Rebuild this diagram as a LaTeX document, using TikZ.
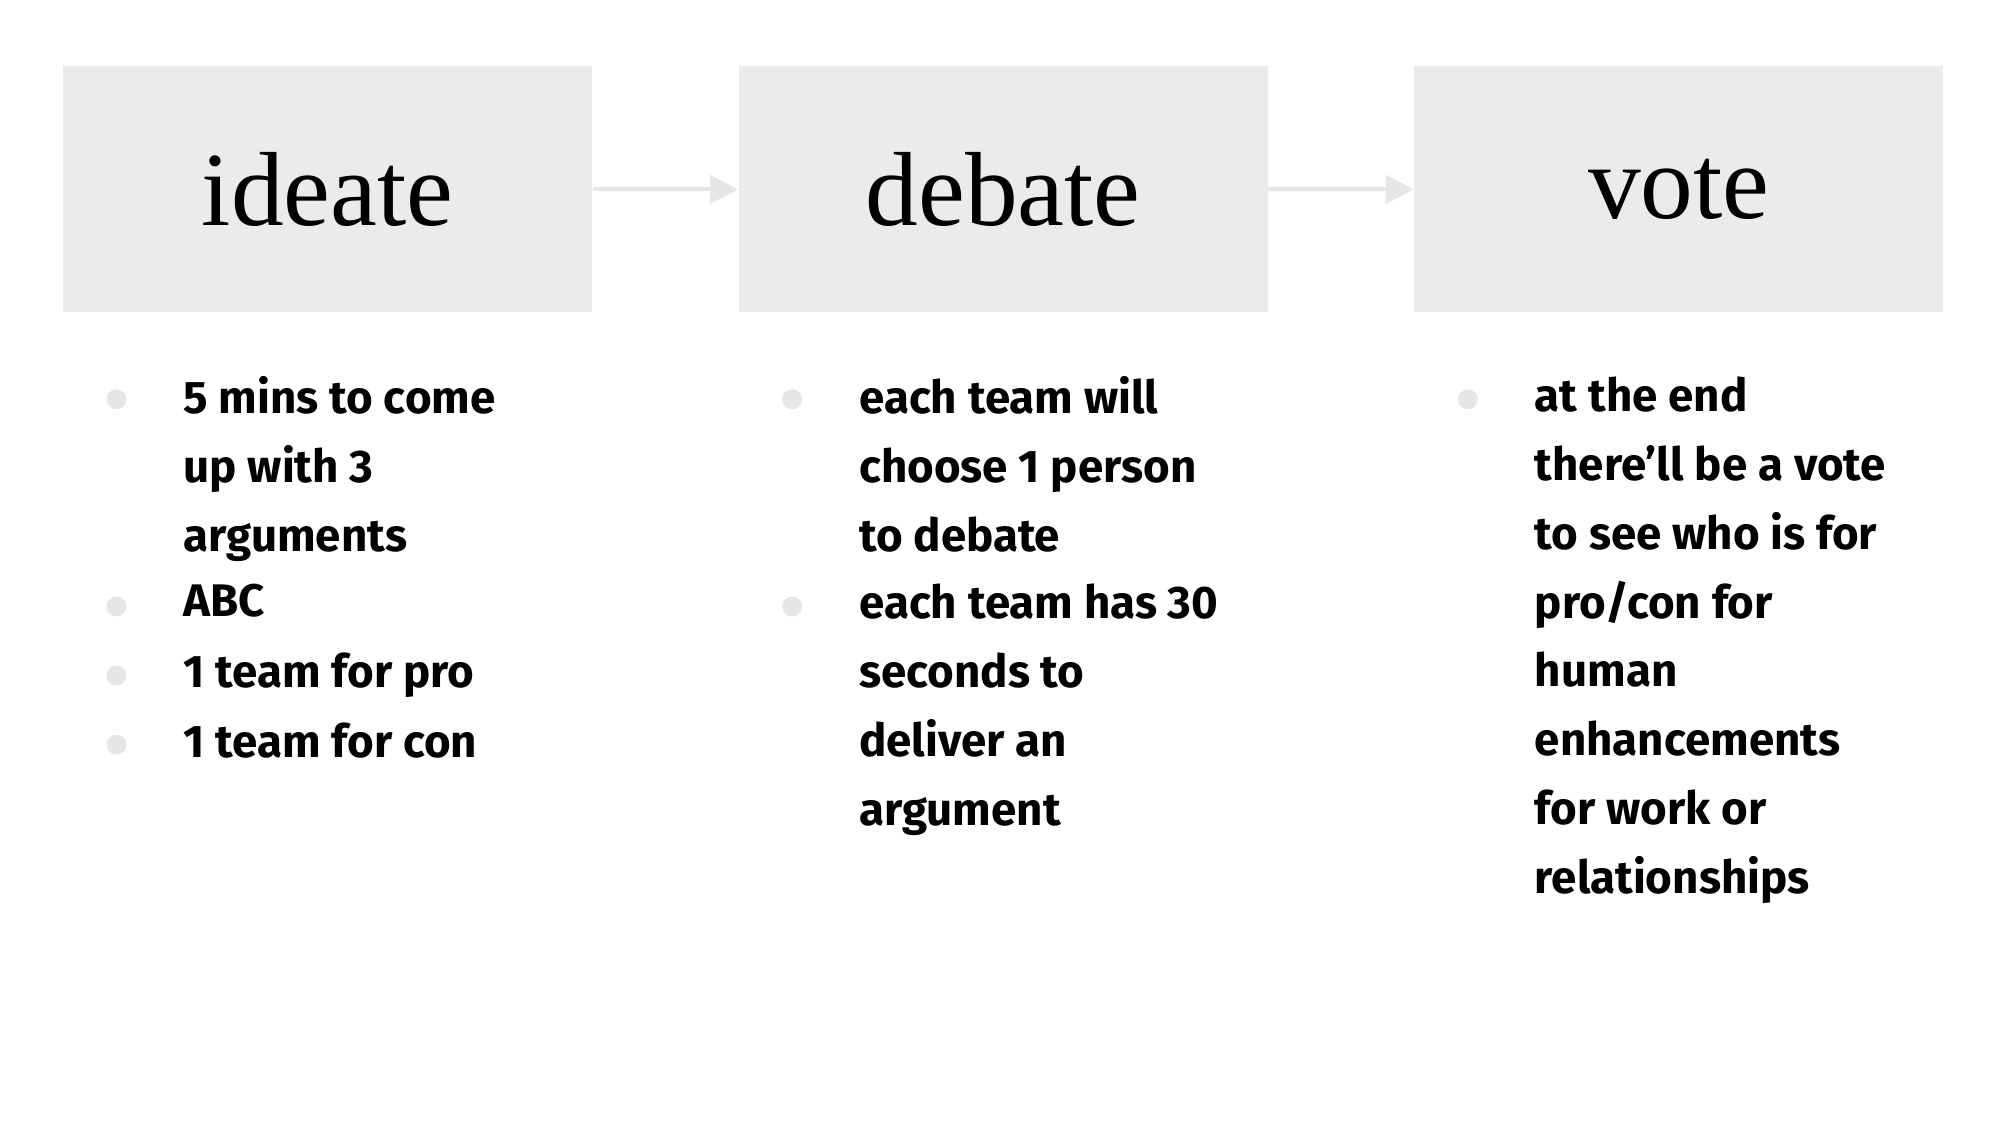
\documentclass[tikz,border=0pt]{standalone}
\usepackage{fontspec}
\setmainfont{Fira Sans}
\newfontfamily\titlefont{Liberation Serif}
\usetikzlibrary{arrows.meta}
\definecolor{boxgray}{HTML}{EBEBEB}
\definecolor{dotgray}{HTML}{E6E6E6}
\tikzset{
  stage/.style={fill=boxgray, draw=none, minimum width=5.29cm, minimum height=2.46cm, font=\titlefont\fontsize{30}{36}\selectfont},
  flow/.style={draw=dotgray, line width=1.2pt, -{Triangle[length=8pt,width=8pt]}},
  dot/.style={circle, fill=dotgray, inner sep=0pt, minimum size=0.2cm},
  item/.style={anchor=north west, inner sep=0pt, align=left, font=\bfseries\fontsize{13}{19.6}\selectfont}
}
\begin{document}
\begin{tikzpicture}[x=0.0128cm,y=-0.0128cm]
    \useasboundingbox (0,0) rectangle (1563,879);
    \begin{scope}
        \node[stage] (ideate) at (256,148) {ideate};
        \node[stage] (debate) at (784,148) {debate};
        \node[stage] (vote)   at (1312,148) {vote};
    \end{scope}

    \draw[flow] (ideate) -- (debate);
    \draw[flow] (debate) -- (vote);

    % ideate
    \node[dot] (d1) at (91,312) {};
    \node[item] (t1) at (143,294) {5 mins to come\\up with 3\\arguments};
    \node[dot] (d2) at (91,474) {};
    \node[item] (t2) at (143,456) {ABC};
    \node[dot] (d3) at (91,528) {};
    \node[item] (t3) at (143,510) {1 team for pro};
    \node[dot] (d4) at (91,582) {};
    \node[item] (t4) at (143,564) {1 team for con};

    % debate
    \node[dot] (d5) at (619,312) {};
    \node[item] (t5) at (671,294) {each team will\\choose 1 person\\to debate};
    \node[dot] (d6) at (619,474) {};
    \node[item] (t6) at (671,456) {each team has 30\\seconds to\\deliver an\\argument};

    % vote
    \node[dot] (d7) at (1147,312) {};
    \node[item] (t7) at (1199,294) {at the end\\there’ll be a vote\\to see who is for\\pro/con for\\human\\enhancements\\for work or\\relationships};
\end{tikzpicture}
\end{document}
